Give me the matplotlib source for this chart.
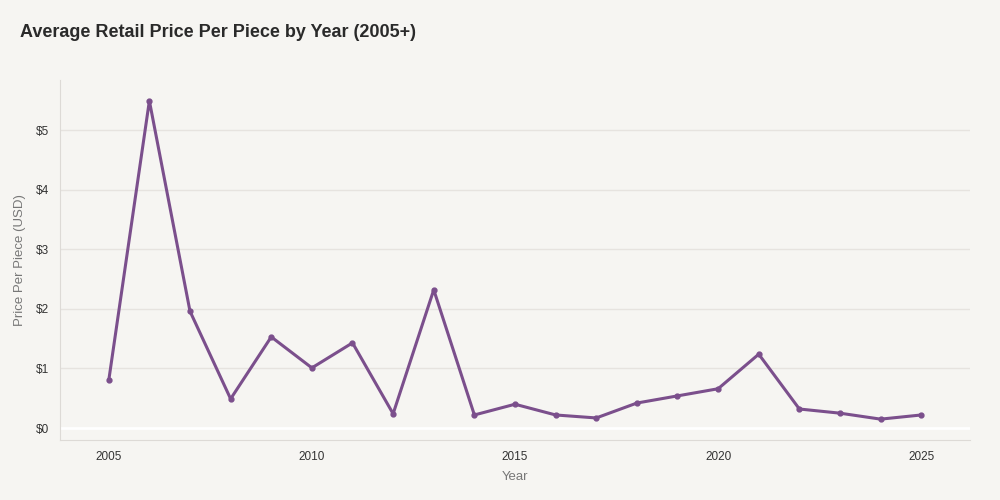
import matplotlib.pyplot as plt
from matplotlib.ticker import FuncFormatter

plt.rcParams['font.family'] = ['Liberation Sans', 'DejaVu Sans']

# Data
years = [2005, 2006, 2007, 2008, 2009, 2010, 2011, 2012, 2013, 2014, 2015,
         2016, 2017, 2018, 2019, 2020, 2021, 2022, 2023, 2024, 2025]
price_per_piece = [0.80, 5.49, 1.96, 0.49, 1.53, 1.01, 1.43, 0.24, 2.32, 0.22, 0.40,
                   0.22, 0.17, 0.42, 0.54, 0.66, 1.24, 0.32, 0.25, 0.15, 0.22]

bg = '#f6f5f2'
line_color = '#7b4f8c'

fig = plt.figure(figsize=(10, 5), dpi=100, facecolor=bg)
ax = fig.add_axes([0.06, 0.12, 0.91, 0.72], facecolor=bg)

ax.plot(years, price_per_piece, color=line_color, linewidth=2.2,
        marker='o', markersize=3.5, zorder=3)

ax.set_xlim(2003.8, 2026.2)
ax.set_ylim(-0.2, 5.84)
ax.set_xticks([2005, 2010, 2015, 2020, 2025])
ax.set_yticks([0, 1, 2, 3, 4, 5])
ax.yaxis.set_major_formatter(FuncFormatter(lambda v, p: f'${v:.0f}'))

ax.grid(axis='y', color='#e6e3df', linewidth=1)
ax.axhline(0, color='white', linewidth=2, zorder=2)
ax.set_axisbelow(True)

for s in ['top', 'right']:
    ax.spines[s].set_visible(False)
for s in ['left', 'bottom']:
    ax.spines[s].set_color('#dddad6')
ax.tick_params(length=0, labelsize=8.5, colors='#333333', pad=8)

ax.set_xlabel('Year', fontsize=9.5, color='#777777', labelpad=6)
ax.set_ylabel('Price Per Piece (USD)', fontsize=9.5, color='#777777', labelpad=7)

fig.text(0.02, 0.935, 'Average Retail Price Per Piece by Year (2005+)',
         fontsize=13, fontweight='bold', color='#2a2a2a', va='center')

fig.savefig('out.png', dpi=100, facecolor=bg)
